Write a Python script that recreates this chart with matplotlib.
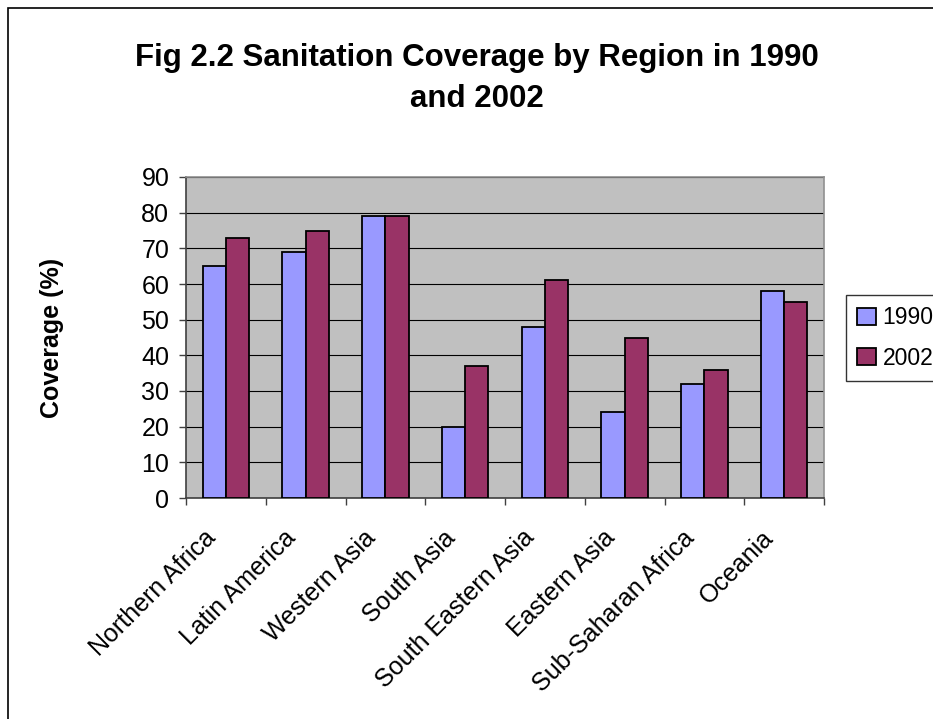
import matplotlib
matplotlib.use("Agg")
import matplotlib.pyplot as plt
import matplotlib.patches as mpatches
import matplotlib.transforms as mtransforms
import numpy as np

regions = ["Northern Africa", "Latin America", "Western Asia", "South Asia",
           "South Eastern Asia", "Eastern Asia", "Sub-Saharan Africa", "Oceania"]
cov_1990 = [65, 69, 79, 20, 48, 24, 32, 58]
cov_2002 = [73, 75, 79, 37, 61, 45, 36, 55]
series_labels = ["1990", "2002"]
y_ticks = [0, 10, 20, 30, 40, 50, 60, 70, 80, 90]

plt.rcParams["font.family"] = ["Liberation Sans", "DejaVu Sans"]

W, H, DPI = 933, 719, 100
FS = 18
fig = plt.figure(figsize=(W / DPI, H / DPI), dpi=DPI)
fig.patch.set_facecolor("white")

# outer chart border (runs off the right and bottom edges)
fig.add_artist(mpatches.Rectangle((8 / W, -0.05), 1.2, 1 - 8 / H + 0.05,
                                  transform=fig.transFigure, fill=False,
                                  edgecolor="black", linewidth=1.2))

ax = fig.add_axes([186 / W, 1 - 498 / H, 638 / W, (498 - 177) / H])
ax.set_facecolor("#C0C0C0")

x = np.arange(len(regions)) + 0.5
bw = 0.29
ax.bar(x - bw / 2, cov_1990, bw, color="#9999FF", edgecolor="black",
       linewidth=1.3, label=series_labels[0], zorder=3)
ax.bar(x + bw / 2, cov_2002, bw, color="#993366", edgecolor="black",
       linewidth=1.3, label=series_labels[1], zorder=3)

ax.set_xlim(0, len(regions))
ax.set_ylim(0, 90)
ax.set_yticks(y_ticks)
ax.set_yticklabels([str(v) for v in y_ticks], fontsize=FS)
ax.yaxis.grid(True, color="black", linewidth=0.8, zorder=1)
ax.set_axisbelow(True)

# category boundary ticks, labels placed separately
ax.set_xticks(np.arange(len(regions) + 1))
ax.set_xticklabels([])
ax.tick_params(axis="x", length=5, width=1, color="#404040", direction="out")
ax.tick_params(axis="y", length=5, width=1, color="#404040", direction="out",
               pad=7)

label_tr = ax.get_xaxis_transform() + mtransforms.ScaledTranslation(
    -10 / 72, -26 / 72, fig.dpi_scale_trans)
for xc, name in zip(x, regions):
    ax.text(xc, 0, name, transform=label_tr, rotation=45, ha="right",
            va="center", rotation_mode="anchor", fontsize=FS)

for side in ("top", "right"):
    ax.spines[side].set_color("#909090")
    ax.spines[side].set_linewidth(1.2)
for side in ("left", "bottom"):
    ax.spines[side].set_color("#404040")
    ax.spines[side].set_linewidth(1.2)

fig.text(52 / W, 1 - 338 / H, "Coverage (%)", rotation=90, ha="center",
         va="center", fontsize=FS, fontweight="bold")

fig.text(477 / W, 1 - 58 / H, "Fig 2.2 Sanitation Coverage by Region in 1990",
         ha="center", va="center", fontsize=22.5, fontweight="bold")
fig.text(477 / W, 1 - 99 / H, "and 2002", ha="center", va="center",
         fontsize=22.5, fontweight="bold")

leg = fig.legend(loc="upper left", bbox_to_anchor=(846 / W, 1 - 295 / H),
                 fontsize=16.5, frameon=True, fancybox=False, shadow=False,
                 handlelength=0.8, handleheight=0.8, handletextpad=0.3,
                 borderpad=0.5, labelspacing=0.75, borderaxespad=0)
leg.get_frame().set_edgecolor("black")
leg.get_frame().set_linewidth(1.0)

fig.savefig("out.png", dpi=DPI, facecolor="white")
